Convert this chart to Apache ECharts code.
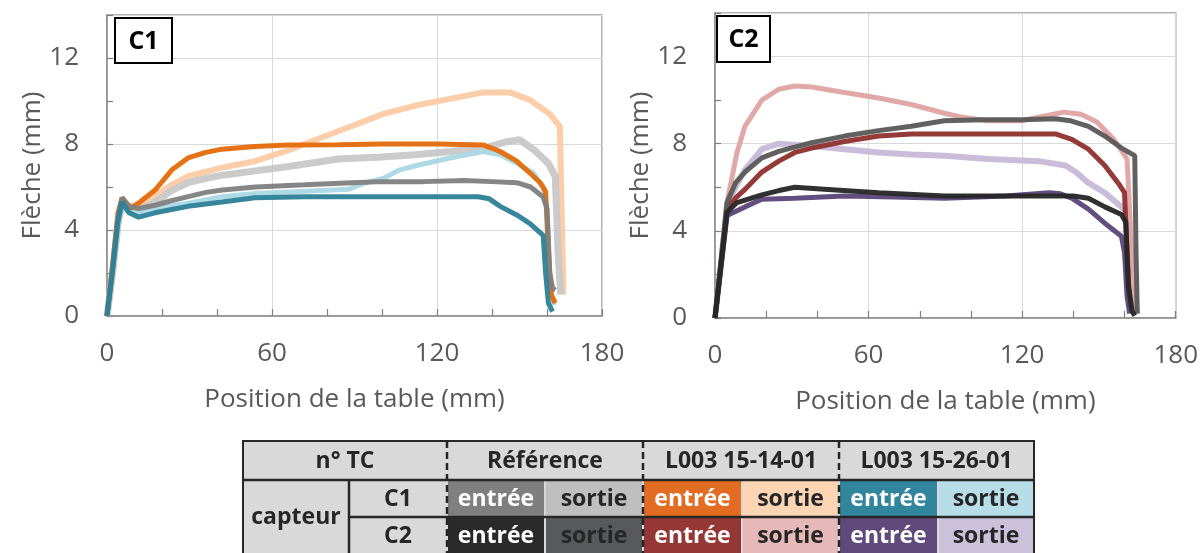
<!DOCTYPE html>
<html>
<head>
<meta charset="utf-8">
<script src="https://cdn.jsdelivr.net/npm/echarts@6/dist/echarts.min.js"></script>
<style>
html, body { margin: 0; background: #fff; }
#main { width: 1201px; height: 553px; }
</style>
</head>
<body>
<div id="main"></div>
<script>
// capteur C1 : [position de la table (mm), fleche (mm)]
var c1RefEntree = [[0,0],[2,2.2],[4,4.6],[5.5,5.5],[8,5.1],[11.5,5.0],[17.5,5.15],[23,5.35],[29.5,5.55],[36,5.75],[42,5.86],[54,6.0],[72,6.1],[89,6.2],[100,6.25],[115,6.25],[130,6.3],[140,6.25],[149,6.2],[154,6.0],[158.5,5.55],[160,5.0],[161,2.0],[162,1.3],[163,1.2]];
var c1RefSortie = [[0,0],[2,2.0],[4,4.3],[5.5,5.2],[8,4.9],[11.5,4.9],[17.5,5.3],[23,5.8],[29.5,6.2],[36,6.4],[42,6.55],[54,6.75],[66,6.95],[84,7.3],[100,7.4],[112,7.5],[125,7.65],[137,7.8],[145,8.1],[150,8.2],[155.5,7.7],[160.5,7.1],[163,6.5],[164,3.0],[165,1.0]];
var c1L14Entree = [[0,0],[2,2.3],[4,4.8],[5.5,5.5],[8.4,5.0],[12,5.3],[17.5,5.86],[23.6,6.8],[29.5,7.35],[35.6,7.6],[41.8,7.76],[53.8,7.88],[65.8,7.95],[84,7.97],[100,8.0],[120,8.0],[137,7.95],[143,7.65],[149,7.2],[153.8,6.65],[157.5,6.2],[159.5,5.8],[160.5,3.0],[161.5,1.0],[163,0.6]];
var c1L14Sortie = [[0,0],[2,1.8],[4,4.2],[5.5,5.3],[9,5.1],[12,5.2],[17.5,5.6],[23.5,6.1],[29.5,6.5],[41.8,6.9],[53.8,7.2],[65.8,7.7],[78,8.3],[88.4,8.8],[100.5,9.4],[112.6,9.8],[124.7,10.1],[136.8,10.4],[146.5,10.4],[153.8,10.05],[161,9.4],[164.7,8.8],[165.3,5.0],[166,1.0]];
var c1L26Entree = [[0,0],[2,2.1],[4,4.4],[5.5,5.3],[8,4.8],[11.5,4.6],[17.5,4.8],[23.5,4.95],[29.5,5.1],[41.8,5.3],[53.8,5.5],[72,5.55],[89,5.55],[110,5.55],[135,5.55],[139,5.45],[143,5.1],[149,4.7],[153.8,4.3],[158.6,3.75],[159.5,2.0],[160.5,0.6],[162,0.2]];
var c1L26Sortie = [[0,0],[2,2.0],[4,4.3],[5.5,5.1],[8,4.8],[11.5,4.8],[17.5,5.0],[29.5,5.25],[41.8,5.55],[53.8,5.7],[72,5.8],[88,5.9],[94,6.2],[100.5,6.4],[106.5,6.8],[112.6,7.0],[124.7,7.35],[136.8,7.65],[143,7.5],[149,7.1],[155,6.65],[158.6,6.0],[160,5.0],[161,1.5],[162.5,0.5]];

// capteur C2
var c2RefEntree = [[0,0],[2,2.1],[4.7,4.85],[8.6,5.3],[18.3,5.65],[25,5.85],[31.2,6.0],[44.2,5.9],[63.9,5.75],[89.6,5.6],[110,5.6],[130,5.6],[140,5.6],[145.9,5.5],[152.3,5.1],[158.8,4.75],[160.5,4.4],[161.5,1.5],[163,0.3],[164,0.1]];
var c2RefSortie = [[0,0],[2,2.2],[4.7,5.3],[8,6.2],[11.7,6.7],[18.3,7.35],[24.9,7.65],[37.8,8.05],[50.6,8.35],[63.9,8.6],[76.7,8.8],[89.6,9.05],[105,9.1],[120,9.1],[132.9,9.15],[139,9.05],[145.9,8.8],[152.3,8.35],[158.8,7.8],[164,7.45],[164.5,3.0],[165,0.2]];
var c2L14Entree = [[0,0],[2,2.1],[4.7,5.0],[8,5.5],[11.7,5.9],[18.3,6.7],[24.9,7.2],[31.2,7.6],[37.8,7.8],[50.6,8.1],[63.9,8.35],[76.7,8.45],[100,8.45],[120,8.45],[133,8.45],[139.4,8.2],[145.9,7.75],[152.3,7.0],[157.5,6.2],[160,5.75],[161,3.0],[162,0.5]];
var c2L14Sortie = [[0,0],[2,2.2],[4.7,5.3],[8.6,7.6],[11.7,8.8],[18.3,10.0],[24.9,10.5],[31.2,10.65],[37.8,10.6],[50.6,10.35],[63.9,10.1],[76.7,9.8],[89.6,9.4],[97.4,9.2],[106.4,9.05],[119.6,9.05],[125.8,9.2],[136.3,9.45],[143,9.35],[149.2,9.0],[155.8,8.2],[161,7.3],[162.4,4.0],[163.5,1.1],[165,0.2]];
var c2L26Entree = [[0,0],[2,2.0],[4.7,4.7],[11.7,5.1],[18.3,5.45],[31.2,5.5],[50.6,5.6],[70,5.55],[89.6,5.5],[113.7,5.6],[130.5,5.75],[135,5.7],[139.4,5.5],[145.9,5.0],[152.3,4.35],[158.8,3.75],[160,3.0],[161,1.0],[162,0.2]];
var c2L26Sortie = [[0,0],[2,2.1],[4.7,5.2],[8,6.0],[11.7,6.8],[18.3,7.75],[24.9,8.0],[37.8,7.9],[50.6,7.75],[63.9,7.6],[76.7,7.5],[89.6,7.45],[107,7.3],[126.5,7.2],[136.9,7.0],[141,6.7],[145.9,6.2],[152.3,5.75],[158.8,5.1],[161.4,4.8],[162,2.5],[163,0.3]];

var xTickLabels = [0, 60, 120, 180];
var yTickLabels = [0, 4, 8, 12];
var groupNames = ['Référence', 'L003 15-14-01', 'L003 15-26-01'];
var sideNames = ['entrée', 'sortie'];
var sensorNames = ['C1', 'C2'];

// couleurs : ref entree, ref sortie, 14 entree, 14 sortie, 26 entree, 26 sortie
var cellColors = [
  ['#7f7f7f', '#bfbfbf', '#e36c23', '#fcd5b5', '#31859c', '#b7dee8'],
  ['#2b2a2b', '#58595b', '#953735', '#e6b9b8', '#604a7b', '#ccc1da']
];
var lineColors = [
  ['#7f7f7f', '#c8c8c8', '#e46c0a', '#fbcaa4', '#2c8197', '#a9d8e4'],
  ['#262626', '#595959', '#8e2f2d', '#dea3a2', '#5b4678', '#c6b9d8']
];
var textDark = '#262626';
var axisGrey = '#595959';
var font = 'Open Sans';

var chart = echarts.init(document.getElementById('main'));

function tickAxisX(gi) {
  return {
    type: 'value', gridIndex: gi, min: 0, max: 180, interval: 20,
    name: 'Position de la table (mm)', nameLocation: 'middle', nameGap: 71,
    nameTextStyle: { color: axisGrey, fontSize: 26, fontFamily: font },
    axisLine: { lineStyle: { color: '#8c8c8c', width: 1.5 } },
    axisTick: { inside: true, length: 7, lineStyle: { color: '#7f7f7f', width: 1.2 } },
    axisLabel: {
      margin: 25, color: axisGrey, fontSize: 26, fontFamily: font,
      formatter: function (v) { return xTickLabels.indexOf(v) >= 0 ? String(v) : ''; }
    },
    splitLine: { show: false }
  };
}
function gridAxisX(gi) {
  return {
    type: 'value', gridIndex: gi, min: 0, max: 180, interval: 60, position: 'bottom',
    axisLine: { show: false }, axisTick: { show: false }, axisLabel: { show: false },
    splitLine: { show: true, lineStyle: { color: '#d9d9d9', width: 1 } }
  };
}
function tickAxisY(gi, gap) {
  return {
    type: 'value', gridIndex: gi, min: 0, max: 14, interval: 2,
    name: 'Flèche (mm)', nameLocation: 'middle', nameGap: gap, nameRotate: 90,
    nameTextStyle: { color: axisGrey, fontSize: 26, fontFamily: font },
    axisLine: { show: true, lineStyle: { color: '#8c8c8c', width: 1.5 } },
    axisTick: { inside: true, length: 6, lineStyle: { color: '#7f7f7f', width: 1.2 } },
    axisLabel: {
      margin: 28, color: axisGrey, fontSize: 26, fontFamily: font,
      formatter: function (v) { return yTickLabels.indexOf(v) >= 0 ? String(v) : ''; }
    },
    splitLine: { show: false }
  };
}
function gridAxisY(gi) {
  return {
    type: 'value', gridIndex: gi, min: 0, max: 14, interval: 4, position: 'left',
    axisLine: { show: false }, axisTick: { show: false }, axisLabel: { show: false },
    splitLine: { show: true, lineStyle: { color: '#d9d9d9', width: 1 } }
  };
}

function curve(data, gi, color, width, z) {
  return {
    type: 'line', data: data, xAxisIndex: gi * 2, yAxisIndex: gi * 2,
    showSymbol: false, silent: true, z: z,
    lineStyle: { color: color, width: width, opacity: 0.95 }
  };
}

var c1 = [c1RefEntree, c1RefSortie, c1L14Entree, c1L14Sortie, c1L26Entree, c1L26Sortie];
var c2 = [c2RefEntree, c2RefSortie, c2L14Entree, c2L14Sortie, c2L26Entree, c2L26Sortie];
var widths = [[5, 7, 5, 6, 5, 5], [5, 5, 5, 5, 5, 6]];
var zOrder = [[6, 2, 5, 1, 7, 3], [7, 5, 4, 2, 6, 1]];
var series = [];
[c1, c2].forEach(function (set, gi) {
  set.forEach(function (d, k) {
    series.push(curve(d, gi, lineColors[gi][k], widths[gi][k], zOrder[gi][k]));
  });
});

// table legende
var colX = [447, 545, 643, 742, 839, 938, 1034];
var tLeft = 243, tTop = 441, hBot = 480, rowMid = 517, tBot = 553;
var g = [];
g.push({ type: 'rect', shape: { x: tLeft, y: tTop, width: 1034 - tLeft, height: tBot - tTop }, style: { fill: '#d9d9d9' } });
for (var r = 0; r < 2; r++) {
  var y0 = r === 0 ? hBot + 1 : rowMid + 1;
  var y1 = r === 0 ? rowMid - 1 : tBot;
  for (var k = 0; k < 6; k++) {
    g.push({ type: 'rect', shape: { x: colX[k] + 1, y: y0, width: colX[k + 1] - colX[k] - 2, height: y1 - y0 },
      style: { fill: cellColors[r][k] } });
    g.push({ type: 'text', x: (colX[k] + colX[k + 1]) / 2, y: (y0 + y1) / 2 + 1,
      style: { text: sideNames[k % 2], fill: (k % 2 === 0) ? '#fff' : textDark, fontSize: 23, fontWeight: 'bold', fontFamily: font, align: 'center', verticalAlign: 'middle' } });
  }
  g.push({ type: 'text', x: 398, y: (y0 + y1) / 2 + 1,
    style: { text: sensorNames[r], fill: textDark, fontSize: 23, fontWeight: 'bold', fontFamily: font, align: 'center', verticalAlign: 'middle' } });
}
g.push({ type: 'text', x: 345, y: 461, style: { text: 'n° TC', fill: textDark, fontSize: 23, fontWeight: 'bold', fontFamily: font, align: 'center', verticalAlign: 'middle' } });
g.push({ type: 'text', x: 296, y: 517, style: { text: 'capteur', fill: textDark, fontSize: 23, fontWeight: 'bold', fontFamily: font, align: 'center', verticalAlign: 'middle' } });
for (var i = 0; i < 3; i++) {
  g.push({ type: 'text', x: (colX[i * 2] + colX[i * 2 + 2]) / 2, y: 461,
    style: { text: groupNames[i], fill: textDark, fontSize: 23, fontWeight: 'bold', fontFamily: font, align: 'center', verticalAlign: 'middle' } });
}
g.push({ type: 'line', shape: { x1: tLeft, y1: hBot, x2: 1034, y2: hBot }, style: { stroke: textDark, lineWidth: 2.5 } });
g.push({ type: 'line', shape: { x1: 349, y1: hBot, x2: 349, y2: tBot }, style: { stroke: textDark, lineWidth: 2.5 } });
g.push({ type: 'line', shape: { x1: 349, y1: rowMid, x2: 1034, y2: rowMid }, style: { stroke: textDark, lineWidth: 2.5 } });
g.push({ type: 'rect', shape: { x: tLeft, y: tTop, width: 1034 - tLeft, height: tBot - tTop + 5 }, style: { fill: 'none', stroke: textDark, lineWidth: 2 } });
[447, 643, 839].forEach(function (x) {
  g.push({ type: 'line', shape: { x1: x, y1: tTop, x2: x, y2: tBot }, style: { stroke: textDark, lineWidth: 2.5, lineDash: [7, 4] } });
});

// etiquettes C1 / C2
[[115, 18, 57, 45], [717, 16, 53, 46]].forEach(function (b, i) {
  g.push({ type: 'rect', z: 100, shape: { x: b[0], y: b[1], width: b[2], height: b[3] }, style: { fill: '#fff', stroke: '#000', lineWidth: 2 } });
  g.push({ type: 'text', z: 101, x: b[0] + b[2] / 2, y: b[1] + b[3] / 2 + 1,
    style: { text: sensorNames[i], fill: '#000', fontSize: 25, fontWeight: 'bold', fontFamily: font, align: 'center', verticalAlign: 'middle' } });
});

var option = {
  animation: false,
  backgroundColor: '#fff',
  grid: [
    { left: 107, top: 15, width: 495, height: 301, show: true, borderColor: '#999', borderWidth: 1.5, backgroundColor: '#fff' },
    { left: 715, top: 13, width: 462, height: 305, show: true, borderColor: '#999', borderWidth: 1.5, backgroundColor: '#fff' }
  ],
  xAxis: [tickAxisX(0), gridAxisX(0), tickAxisX(1), gridAxisX(1)],
  yAxis: [tickAxisY(0, 50), gridAxisY(0), tickAxisY(1, 46), gridAxisY(1)],
  series: series,
  graphic: g
};
chart.setOption(option);
</script>
</body>
</html>
